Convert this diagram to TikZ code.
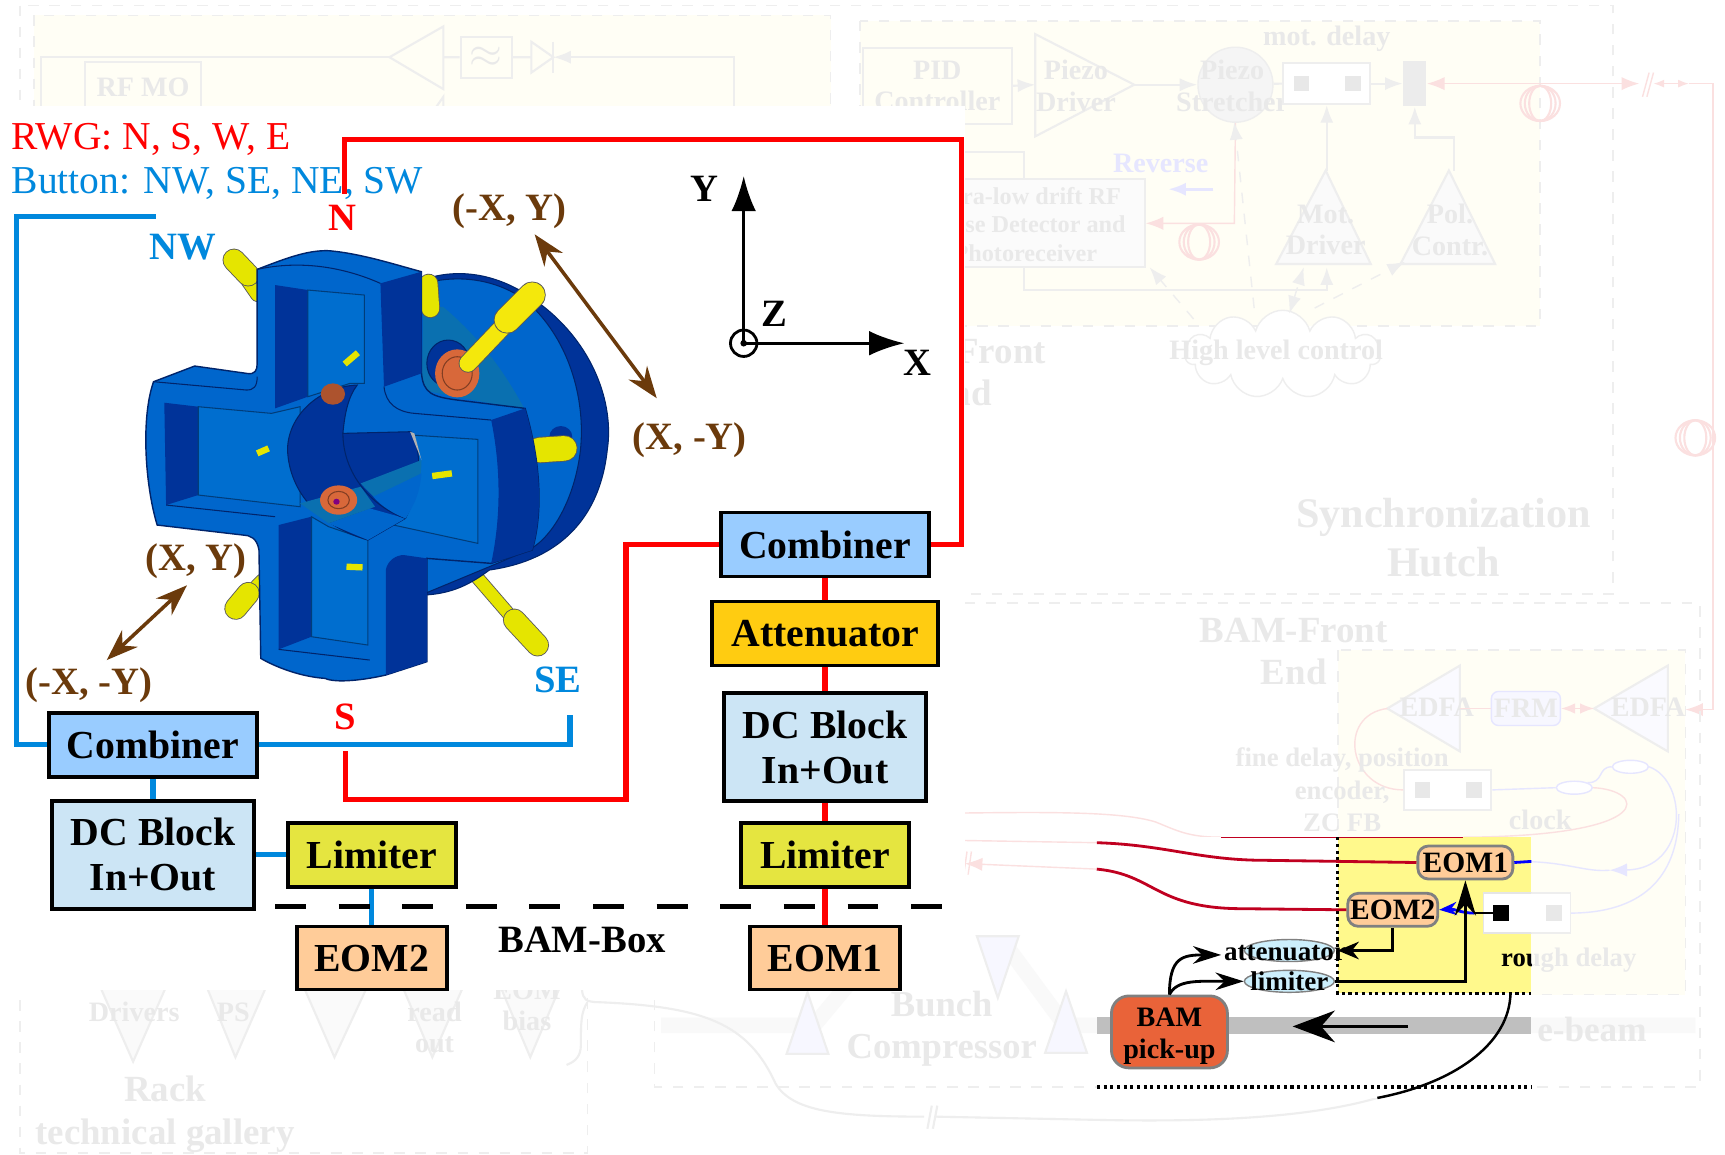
\documentclass[tikz,border=0pt]{standalone}
\usepackage{fontspec}
\setmainfont{Liberation Serif}
\usetikzlibrary{arrows.meta, calc, shapes.geometric, shapes.symbols}
\definecolor{azulb}{HTML}{0088DD}
\definecolor{cafe}{HTML}{6B3A0B}
\definecolor{durazno}{HTML}{FFCC99}
\definecolor{celeste}{HTML}{99CCFF}
\definecolor{ambar}{HTML}{FFCC11}
\definecolor{palido}{HTML}{CCE5F5}
\definecolor{limon}{HTML}{E5E540}
\definecolor{tomate}{HTML}{E96339}
\definecolor{tenuet}{HTML}{E9E9E9}
\definecolor{tenuel}{HTML}{EEEEEE}
\definecolor{rosa}{HTML}{FBE0E0}
\definecolor{lila}{HTML}{E6E6FF}
\definecolor{vino}{HTML}{C00020}
\definecolor{azulm}{HTML}{0066CC}
\definecolor{azulo}{HTML}{003399}
\definecolor{azult}{HTML}{0A70B0}
\definecolor{pinza}{HTML}{E5E500}
\definecolor{cobre}{HTML}{D8683A}
\newcommand{\bobina}[2]{\foreach \r in {18,14,10} \draw[rosa, line width=0.6pt] (#1,#2) ellipse [x radius=\r, y radius=16];}

\begin{document}
\begin{tikzpicture}[x=0.011cm, y=-0.011cm,
            caja/.style={rectangle, draw, line width=1pt, align=center, inner sep=0pt, font=\fontsize{11.3}{12.8}\selectfont\bfseries},
            chico/.style={rectangle, rounded corners=3pt, draw=gray, line width=0.8pt, fill=durazno, inner sep=0pt, font=\fontsize{8.4}{10}\selectfont\bfseries},
            ovalo/.style={ellipse, draw=gray, fill=cyan!20, inner sep=0pt, minimum width=0.9cm, minimum height=0.22cm},
            tenue/.style={font=\fontsize{8}{8.9}\selectfont\bfseries, text=tenuet, align=center},
            tenueg/.style={font=\fontsize{12}{14}\selectfont\bfseries, text=tenuet, align=center},
            linea/.style={draw=tenuel, line width=0.6pt},
            marco/.style={draw=tenuel, dashed, line width=0.5pt},
            rojo/.style={draw=red, line width=1.5pt},
            azul/.style={draw=azulb, line width=1.5pt},
            marron/.style={draw=cafe, line width=1pt, {Stealth[length=9pt,width=6.5pt]}-{Stealth[length=9pt,width=6.5pt]}},
            etiq/.style={font=\fontsize{11}{13}\selectfont\bfseries},
            pin/.style={draw=black!65, double=pinza, line width=0.25pt, double distance=3.4pt, line cap=round}]

            \path[use as bounding box, fill=white] (0,0) rectangle (1568,1049);

            % fondo tenue
            \draw[marco] (18,5) rectangle (1466,540);
            \draw[marco, fill=yellow!4] (31,14) rectangle (755,200);
            \draw[marco, fill=yellow!4] (782,19) rectangle (1400,296);
            \draw[linea] (37,96) -- (37,52) -- (354,52);
            \draw[linea] (354,52) -- (403,24) -- (403,81) -- cycle;
            \draw[linea] (384,115) -- (403,88) -- (403,140);
            \node[linea, draw, minimum width=0.51cm, minimum height=0.41cm] (fil) at (442,52) {};
            \node[text=tenuet, font=\large] (fis) at (442,52) {$\approx$};
            \draw[linea] (403,52) -- (fil) -- (483,52) -- (483,38) -- (503,52) -- (483,66) -- (483,52);
            \draw[linea] (503,38) -- (503,66);
            \draw[linea, -{Latex[length=5pt]}] (667,96) -- (667,52) -- (503,52);
            \node[linea, draw, minimum width=1.12cm, minimum height=0.5cm, tenue] (rfm) at (130,79) {RF MO};
            \node[linea, draw, minimum width=1.4cm, minimum height=0.76cm, tenue] (pid) at (852,78) {PID\\Controller};
            \draw[linea] (941,31) -- (941,124) -- (1031,77) -- cycle;
            \node[tenue] (pdr) at (978,78) {Piezo\\Driver};
            \draw[linea, -{Latex[length=5pt]}] (pid.east) -- (941,77);
            \node[ellipse, draw=tenuel, fill=gray!8, minimum width=0.75cm, minimum height=0.75cm] (pes) at (1123,77) {};
            \node[tenue] (pet) at (1120,78) {Piezo\\Stretcher};
            \draw[linea, -{Latex[length=5pt]}] (1031,77) -- (pes);
            \node[linea, draw, fill=white, minimum width=0.87cm, minimum height=0.41cm] (mot) at (1206,76) {};
            \foreach \xa in {1183,1230} \fill[gray!18] (\xa-7,69) rectangle (\xa+7,83);
            \node[tenue] (mtd) at (1206,35) {mot. delay};
            \node[fill=gray!15, minimum width=0.23cm, minimum height=0.45cm, inner sep=0pt] (bar) at (1286,76) {};
            \draw[linea, -{Latex[length=5pt]}] (mot.east) -- (bar.west);
            \draw[linea] (pes) -- (mot.west);
            \draw[rosa, -{Latex[length=5pt]}] (1400,76) -- (bar.east);
            \draw[rosa, -{Latex[length=5pt]}] (1400,76) -- (1490,76);
            \draw[rosa] (1493,88) -- (1499,66) (1497,88) -- (1503,66);
            \draw[rosa, {Latex[length=3pt]}-{Latex[length=3pt]}] (1503,76) -- (1535,76);
            \draw[rosa] (1535,76) -- (1557,76) -- (1557,645);
            \draw[rosa, -{Latex[length=5pt]}] (1557,645) -- (1532,645);
            \bobina{1400}{94}
            \bobina{1090}{220}
            \bobina{1541}{398}
            \node[font=\fontsize{8}{10}\selectfont\bfseries, text=lila] (rev) at (1055,149) {Reverse};
            \draw[lila, line width=0.8pt, -{Latex[length=5pt]}] (1103,172) -- (1062,172);
            \node[linea, draw, fill=gray!3, minimum width=2.1cm, minimum height=0.88cm] (ult) at (945,203) {};
            \node[font=\fontsize{6.9}{8.1}\selectfont\bfseries, text=tenuet, align=center] (ult2) at (932,204) {Ultra-low drift RF\\Phase Detector and\\Photoreceiver};
            \draw[linea] (931,163) -- (931,138) -- (850,138);
            \draw[rosa, -{Latex[length=5pt]}] (pes.south) -- (1122,203) -- (ult.east);
            \draw[linea, fill=gray!4] (1205,155) -- (1160,240) -- (1246,240) -- cycle;
            \draw[linea, fill=gray!4] (1317,155) -- (1273,240) -- (1359,240) -- cycle;
            \node[tenue] (mdr) at (1205,209) {Mot.\\Driver};
            \node[tenue] (pcn) at (1318,209) {Pol.\\Contr.};
            \draw[linea, -{Latex[length=5pt]}] (1206,155) -- (mot.south);
            \draw[linea, -{Latex[length=5pt]}] (1322,155) -- (1322,125) -- (1286,125) -- (bar.south);
            \draw[linea, -{Latex[length=5pt]}] (931,243) -- (931,264) -- (1206,264) -- (1206,243);
            \node[cloud, cloud puffs=11, cloud ignores aspect, draw=tenuel, fill=white, minimum width=1.95cm, minimum height=0.88cm] (nub) at (1166,322) {};
            \node[tenue] (hlc) at (1160,321) {High level control};
            \draw[tenuel, dashed, -{Latex[length=5pt]}] (1085,290) -- (1045,243);
            \draw[tenuel, dashed, -{Latex[length=5pt]}] (1140,280) -- (1122,111);
            \draw[tenuel, dashed, {Latex[length=5pt]}-{Latex[length=5pt]}] (1172,285) -- (1185,243);
            \draw[tenuel, dashed, -{Latex[length=5pt]}] (1195,280) -- (1277,238);
            \node[tenueg] (syn) at (1312,489) {Synchronization\\Hutch};
            \node[tenueg, font=\fontsize{10.5}{13}\selectfont\bfseries, anchor=east] (fro) at (962,320) {Front};
            \node[tenueg, font=\fontsize{10.5}{13}\selectfont\bfseries, anchor=east] (eno) at (913,357) {nd};

            \draw[marco] (877,548) -- (1545,548) -- (1545,988) -- (595,988) -- (595,850);
            \draw[marco, fill=yellow!4] (1216,591) rectangle (1532,904);
            \node[font=\fontsize{10.5}{12}\selectfont\bfseries, text=tenuet, align=center] (bfe) at (1176,592) {BAM-Front\\End};
            \draw[linea, fill=blue!2] (1261,644) -- (1327,605) -- (1327,683) -- cycle;
            \draw[linea, fill=blue!2] (1449,644) -- (1516,605) -- (1516,683) -- cycle;
            \node[tenue] (ed1) at (1306,643) {EDFA};
            \node[tenue] (ed2) at (1498,643) {EDFA};
            \node[draw=lila, fill=blue!3, rounded corners=2pt, minimum width=0.69cm, minimum height=0.34cm, inner sep=0pt, tenue] (frm) at (1387,644) {FRM};
            \draw[rosa] (1327,644) -- (frm);
            \draw[rosa, {Latex[length=4pt]}-{Latex[length=4pt]}] (frm) -- (1449,644);
            \node[linea, draw, fill=white, minimum width=0.87cm, minimum height=0.4cm] (fin) at (1316,718) {};
            \foreach \xa in {1293,1340} \fill[gray!18] (\xa-7,711) rectangle (\xa+7,725);
            \draw[rosa] (1261,644) .. controls (1215,650) and (1225,718) .. (fin.west);
            \node[tenue, font=\fontsize{7.6}{9.2}\selectfont\bfseries] (fdt) at (1220,718) {fine delay, position\\encoder,\\ZC FB};
            \node[tenue] (clo) at (1400,745) {clock};
            \node[ellipse, draw=lila, fill=white, minimum width=0.36cm, minimum height=0.13cm, inner sep=0pt] (co1) at (1431,716) {};
            \node[ellipse, draw=lila, fill=white, minimum width=0.36cm, minimum height=0.13cm, inner sep=0pt] (co2) at (1482,697) {};
            \draw[lila] (fin.east) -- (co1.west);
            \draw[lila] (co1.north east) .. controls (1458,712) and (1452,697) .. (co2.west);
            \draw[rosa] (co1.east) .. controls (1495,718) and (1510,760) .. (1330,761);
            \draw[lila, -{Latex[length=5pt]}] (co2.east) .. controls (1535,710) and (1535,790) .. (1463,791);
            \draw[lila] (1463,791) .. controls (1440,793) and (1425,783) .. (1380,783);
            \draw[lila] (1526,740) .. controls (1525,800) and (1490,830) .. (1427,830);
            \draw[rosa] (877,739) .. controls (960,738) and (1020,738) .. (1050,747) .. controls (1070,755) and (1080,761) .. (1110,761);
            \draw[rosa] (877,764) -- (997,766);
            \draw[rosa, {Latex[length=5pt]}-] (877,785) -- (997,790);
            \draw[rosa] (879,774) -- (876,795) (883,774) -- (880,795);
            \node[draw=tenuel, fill=white, minimum width=0.87cm, minimum height=0.4cm] (rgf) at (1388,830) {};
            \fill[gray!18] (1405,823) rectangle (1420,837);
            \node[tenue, font=\fontsize{7.6}{9.2}\selectfont\bfseries] (rdf) at (1426,873) {rough delay};

            \draw[gray!5, line width=4.4pt] (601,932) -- (740,932) -- (800,860);
            \draw[gray!5, line width=4.4pt] (915,860) -- (968,932) -- (1541,932);
            \foreach \xa/\ya/\yb in {734/902/958,969/901/957} \draw[linea, fill=blue!3] (\xa,\ya) -- (\xa-19,\yb) -- (\xa+19,\yb) -- cycle;
            \draw[linea, fill=blue!3] (907,907) -- (888,851) -- (926,851) -- cycle;
            \node[tenue, font=\fontsize{10.4}{12}\selectfont\bfseries] (bun) at (856,935) {Bunch\\Compressor};
            \node[tenue, font=\fontsize{10}{12}\selectfont\bfseries] (ebe) at (1447,936) {e-beam};

            \draw[marco] (18,890) -- (18,1048) -- (534,1048) -- (534,890);
            \foreach \xa/\xb/\xc/\ya in {88/154/121/965,185/245/214/961,273/337/304/961,363/424/393/961,452/512/482/961} \draw[linea, fill=gray!4] (\xa,890) -- (\xb,890) -- (\xc,\ya) -- cycle;
            \node[tenue] (drv) at (122,920) {Drivers};
            \node[tenue] (pss) at (212,920) {PS};
            \node[tenue] (rea) at (395,934) {read\\out};
            \node[tenue] (bia) at (479,914) {EOM\\bias};
            \node[tenue, font=\fontsize{10.5}{12.2}\selectfont\bfseries] (rck) at (150,1013) {Rack\\technical gallery};
            \draw[linea] (529,900) .. controls (530,908) and (532,911) .. (545,911) .. controls (640,915) and (680,930) .. (705,985) .. controls (720,1010) and (760,1015) .. (840,1015);
            \draw[linea] (534,911) .. controls (528,920) and (528,930) .. (528,950) .. controls (528,960) and (523,965) .. (515,968);
            \draw[linea] (843,1026) -- (847,1005) (848,1026) -- (852,1005);
            \draw[linea] (850,1015) -- (1000,1018) .. controls (1100,1020) and (1190,1016) .. (1252,998);

            % zonas en claro
            \fill[white] (0,96) rectangle (877,900);
            \fill[white] (997,761) rectangle (1392,998);

            \begin{scope}
            \clip (997,761) rectangle (1392,998);
            \fill[yellow!45] (1216,761) rectangle (1392,903);
            \fill[gray!50] (997,924) rectangle (1392,940);
            \node[draw=gray!20, fill=white, minimum width=0.87cm, minimum height=0.4cm] (rgh) at (1388,830) {};
            \fill[black] (1357,823) rectangle (1372,837);
            \fill[gray!25] (1405,823) rectangle (1420,837);
            \draw[vino, line width=0.5pt] (1110,761) -- (1330,761);
            \node[font=\fontsize{7.6}{9.2}\selectfont\bfseries] (rdl) at (1426,873) {rough delay};
            \end{scope}

            \draw[densely dotted, line width=0.9pt] (1216,761) -- (1216,903) -- (1392,903);
            \draw[densely dotted, line width=0.9pt] (997,988) -- (1392,988);

            \node[chico] (eo1) at (1332,784) {\parbox[c][0.33cm][c]{0.95cm}{\centering EOM1}};
            \node[chico] (eo2) at (1266,827) {\parbox[c][0.33cm][c]{0.9cm}{\centering EOM2}};
            \node[ovalo] (ate) at (1172,864) {};
            \node[ovalo] (lmt) at (1172,892) {};
            \node[font=\fontsize{7.7}{9}\selectfont\bfseries] (att) at (1168,866) {attenuator};
            \node[font=\fontsize{7.7}{9}\selectfont\bfseries] (lit) at (1172,892) {limiter};
            \node[rectangle, rounded corners=5pt, draw=gray, line width=0.8pt, fill=tomate, align=center, inner sep=0pt, minimum width=1.16cm, minimum height=0.72cm, font=\fontsize{8}{9.2}\selectfont\bfseries] (pic) at (1063,938) {\rule{0pt}{7.6pt}BAM\\pick-up};

            \draw[vino, line width=0.8pt] (997,766) .. controls (1060,768) and (1090,782) .. (1150,782) -- (eo1.west);
            \draw[vino, line width=0.8pt] (997,790) .. controls (1050,795) and (1050,826) .. (1130,826) -- (eo2.west);
            \draw[blue, line width=0.8pt] (eo1.east) -- (1392,783);
            \draw[blue, line width=0.8pt, -{Stealth[length=5pt]}] (1340,830) .. controls (1328,830) and (1322,826) .. (eo2.east);
            \draw[line width=0.7pt] (1357,830) -- (1340,830);
            \draw[line width=0.8pt, -{Stealth[length=8pt,width=5pt]}] (pic.north) .. controls (1063,870) and (1075,868) .. (1110,868);
            \draw[line width=0.8pt, -{Stealth[length=8pt,width=5pt]}] (pic.north) .. controls (1070,890) and (1090,892) .. (lmt.west);
            \draw[line width=0.8pt, -{Stealth[length=6pt,width=5pt]}] (eo2.south) |- (1216,864);
            \draw[line width=0.8pt, -{Stealth[length=10pt,width=6pt]}] (lmt.east) -| (eo1.south);
            \draw[line width=1pt, -{Stealth[length=12pt,width=9pt]}] (1280,933) -- (1175,933);
            \draw[line width=0.7pt] (1373,903) .. controls (1372,950) and (1320,985) .. (1252,998);

            % dispositivo
            \begin{scope}[shift={(90.9,209.1)}, xscale=0.3247, yscale=0.303]
            \draw[pin] (440,195) -- (395,125);
            \draw[pin, double distance=6pt] (415,135) -- (375,90);
            \draw[pin] (455,1050) -- (400,1110);
            \draw[pin, double distance=6pt] (415,1090) -- (380,1135);
            \draw[pin] (1030,1010) -- (1175,1190);
            \draw[pin, double distance=6pt] (1160,1170) -- (1225,1245);
            \draw[fill=azulo, draw=azulo!70!black, line width=0.3pt] (880,160) .. controls (980,110) and (1110,120) .. (1230,220) .. controls (1380,340) and (1440,520) .. (1420,660) .. controls (1400,860) and (1290,990) .. (1090,1020) .. controls (1040,1060) and (990,1090) .. (910,1095) -- cycle;
            \draw[fill=azulm, draw=azulo!70!black, line width=0.3pt] (880,170) .. controls (980,130) and (1100,140) .. (1190,210) .. controls (1310,320) and (1360,500) .. (1345,660) .. controls (1330,800) and (1270,920) .. (1200,960) -- (1090,1010) -- (910,1090) -- cycle;
            \fill[azult] (905,240) -- (960,230) .. controls (1060,320) and (1130,420) .. (1190,540) -- (900,480) -- cycle;
            \draw[pin, double distance=5pt] (920,160) -- (925,235);
            \fill[azulo] (1290,620) circle [radius=32];
            \draw[pin, double distance=7pt] (1230,660) -- (1300,655);
            \draw[fill=azulo, draw=azulo!70!black, line width=0.3pt] (975,400) ellipse [x radius=60, y radius=70];
            \draw[fill=azulm, draw=azulo!70!black, line width=0.4pt] (440,118) .. controls (520,85) and (580,60) .. (640,62) .. controls (730,70) and (830,105) .. (900,125) -- (900,430) .. controls (905,490) and (930,500) .. (1000,510) -- (1190,535) .. controls (1235,700) and (1240,850) .. (1210,960) -- (1095,1000) -- (915,985) -- (915,1295) -- (800,1335) .. controls (740,1350) and (660,1360) .. (630,1345) .. controls (560,1340) and (490,1310) .. (450,1285) -- (445,960) .. controls (440,925) and (420,915) .. (400,915) -- (160,885) .. controls (125,760) and (115,560) .. (150,455) -- (265,408) -- (410,430) .. controls (435,435) and (440,420) .. (440,400) -- cycle;
            \fill[azulo] (785,160) -- (900,125) -- (900,430) -- (795,470) -- cycle;
            \fill[azulo] (1095,570) -- (1190,535) .. controls (1235,700) and (1240,850) .. (1210,960) -- (1095,1000) .. controls (1125,850) and (1120,700) .. (1095,570) -- cycle;
            \fill[azulo] (915,985) -- (915,1295) -- (800,1335) -- (800,1020) .. controls (805,990) and (830,975) .. (850,975) -- cycle;
            \draw[azulo!70!black, line width=0.3pt] (150,455) -- (410,480) .. controls (430,480) and (440,470) .. (440,440);
            \draw[azulo!70!black, line width=0.3pt] (440,118) .. controls (560,90) and (680,110) .. (785,160);
            \draw[azulo!70!black, line width=0.3pt] (795,470) .. controls (800,520) and (830,545) .. (880,550) -- (1095,570);
            % ventanas
            \fill[azulo] (490,165) -- (582,180) -- (582,500) -- (490,535) -- cycle;
            \draw[azulm!60!black, line width=0.3pt, fill=azulm!95!cyan] (582,180) -- (740,195) -- (740,460) -- (700,460) -- (582,500) -- cycle;
            \fill[azulo] (180,518) -- (275,530) -- (275,795) -- (185,825) -- cycle;
            \draw[azulm!60!black, line width=0.3pt, fill=azulm!95!cyan] (275,530) -- (480,550) -- (560,530) -- (560,830) -- (275,795) -- cycle;
            \draw[azulm!60!black, line width=0.3pt, fill=azulm!95!cyan] (800,610) -- (1058,628) -- (1058,940) -- (800,880) -- cycle;
            \fill[azulo] (500,885) -- (592,860) -- (592,1220) -- (500,1258) -- cycle;
            \draw[azulm!60!black, line width=0.3pt, fill=azulm!95!cyan] (592,860) -- (640,890) -- (750,930) -- (750,1245) -- (592,1220) -- cycle;
            \draw[azulo!70!black, line width=0.3pt] (500,1258) -- (755,1290);
            \draw[azulo!70!black, line width=0.3pt] (185,825) -- (490,860);
            % cavidad
            \draw[fill=azulo, draw=azulo!70!black, line width=0.3pt] (720,465) .. controls (610,470) and (525,560) .. (525,660) .. controls (530,790) and (620,890) .. (750,930) -- (855,865) -- (680,610) .. controls (685,550) and (695,500) .. (720,465) -- cycle;
            \fill[azulm] (640,880) -- (755,835) -- (855,865) -- (750,930) -- cycle;
            \fill[azult] (560,820) -- (730,770) -- (770,830) -- (640,880) -- cycle;
            \draw[fill=azulo, draw=azulo!70!black, line width=0.3pt] (680,610) -- (870,605) .. controls (900,660) and (905,760) .. (855,865) .. controls (760,830) and (680,730) .. (680,610) -- cycle;
            \fill[azult] (730,760) -- (900,690) .. controls (900,760) and (880,820) .. (855,865) .. controls (810,840) and (770,810) .. (730,760) -- cycle;
            \fill[azulm] (765,800) -- (900,730) .. controls (895,790) and (880,825) .. (855,865) .. controls (820,850) and (790,830) .. (765,800) -- cycle;
            \fill[gray!60] (868,605) -- (880,610) -- (900,690) -- cycle;
            % botones
            \fill[cobre] (668,810) ellipse [x radius=52, y radius=44];
            \draw[cobre!60!black, line width=0.3pt] (668,810) ellipse [x radius=30, y radius=26];
            \fill[violet] (662,815) circle [radius=9];
            \fill[cobre!80!black] (652,492) ellipse [x radius=34, y radius=32];
            \fill[cobre] (1000,430) ellipse [x radius=62, y radius=72];
            \draw[cobre!60!black, line width=0.3pt] (1000,430) ellipse [x radius=42, y radius=50];
            \draw[pin, double=yellow!95!black, double distance=4.8pt] (1030,400) -- (1150,265);
            \draw[pin, double=yellow!95!black, double distance=7.2pt] (1140,270) -- (1210,195);
            \foreach \xa/\ya/\xb/\yb in {722/368/685/402,472/655/440/670,985/730/930/738,735/1012/690/1010}
              \draw[draw=pinza, line width=1.8pt] (\xa,\ya) -- (\xb,\yb);
            \end{scope}

            % texto y cajas
            \node[anchor=west, font=\fontsize{11.25}{13}\selectfont, text=red, inner sep=0pt] (rwg) at (10,127) {RWG: N, S, W, E};
            \node[anchor=west, font=\fontsize{11.25}{13}\selectfont, text=azulb, inner sep=0pt] (but) at (10,167) {Button: NW, SE, NE, SW};

            \node[caja, fill=celeste, minimum width=2.08cm, minimum height=0.64cm] (com1) at (750,495) {Combiner};
            \node[caja, fill=ambar, minimum width=2.26cm, minimum height=0.64cm] (ate1) at (750,576) {Attenuator};
            \node[caja, fill=palido, minimum width=2.02cm, minimum height=1.08cm] (dcb1) at (750,679) {DC Block\\In+Out};
            \node[caja, fill=limon, minimum width=1.68cm, minimum height=0.64cm] (lim1) at (750,777) {Limiter};
            \node[caja, fill=durazno, minimum width=1.5cm, minimum height=0.63cm] (eom1) at (750,871) {EOM1};
            \node[caja, fill=celeste, minimum width=2.08cm, minimum height=0.64cm] (com2) at (139,677) {Combiner};
            \node[caja, fill=palido, minimum width=2.02cm, minimum height=1.08cm] (dcb2) at (139,777) {DC Block\\In+Out};
            \node[caja, fill=limon, minimum width=1.68cm, minimum height=0.64cm] (lim2) at (338,777) {Limiter};
            \node[caja, fill=durazno, minimum width=1.5cm, minimum height=0.63cm] (eom2) at (338,871) {EOM2};

            \node[etiq, text=red] (nor) at (311,198) {N};
            \node[etiq, text=red] (sur) at (314,652) {S};
            \node[etiq, text=azulb] (nwe) at (166,225) {NW};
            \node[etiq, text=azulb] (see) at (507,618) {SE};
            \coordinate (nfin) at (313,176);
            \coordinate (sfin) at (314,683);
            \coordinate (rtop) at (874,127);
            \coordinate (rbot) at (569,727);
            \coordinate (bizq) at (15,197);
            \coordinate (bfin) at (142,197);
            \coordinate (bder) at (518,650);

            \draw[rojo] (com1.east) -| (rtop) -| (nfin);
            \draw[rojo] (com1.west) -| (rbot) -| (sfin);
            \draw[rojo] (com1) -- (ate1);
            \draw[rojo] (ate1) -- (dcb1);
            \draw[rojo] (dcb1) -- (lim1);
            \draw[rojo] (lim1) -- (eom1);
            \draw[azul] (com2.west) -| (bizq) -- (bfin);
            \draw[azul] (com2.east) -| (bder);
            \draw[azul] (com2) -- (dcb2);
            \draw[azul] (dcb2) -- (lim2);
            \draw[azul] (lim2.south -| eom2) -- (eom2);

            \draw[line width=1.4pt, dash pattern=on 8.8pt off 9.3pt] (250,824) -- (860,824);
            \node[etiq] (box) at (529,854) {BAM-Box};

            \coordinate (ori) at (676,312);
            \coordinate (yeje) at (676,160);
            \coordinate (xeje) at (822,312);
            \draw[line width=0.8pt, -{Latex[length=10pt,width=7pt]}] (ori) -- (yeje);
            \draw[line width=0.8pt, -{Latex[length=10pt,width=7pt]}] (ori) -- (xeje);
            \draw[line width=0.8pt] (ori) circle [radius=12];
            \fill (ori) circle [radius=3];
            \node[etiq] (yet) at (640,172) {Y};
            \node[etiq] (zet) at (704,285) {Z};
            \node[etiq] (xet) at (834,330) {X};

            \coordinate (ma) at (486,213);
            \coordinate (mb) at (597,362);
            \coordinate (mc) at (170,532);
            \coordinate (md) at (97,600);
            \draw[marron] (ma) -- (mb);
            \draw[marron] (mc) -- (md);
            \node[etiq, text=cafe] (eti1) at (463,192) {(-X, Y)};
            \node[etiq, text=cafe] (eti2) at (627,400) {(X, -Y)};
            \node[etiq, text=cafe] (eti3) at (178,510) {(X, Y)};
            \node[etiq, text=cafe] (eti4) at (81,623) {(-X, -Y)};
        \end{tikzpicture}
\end{document}
